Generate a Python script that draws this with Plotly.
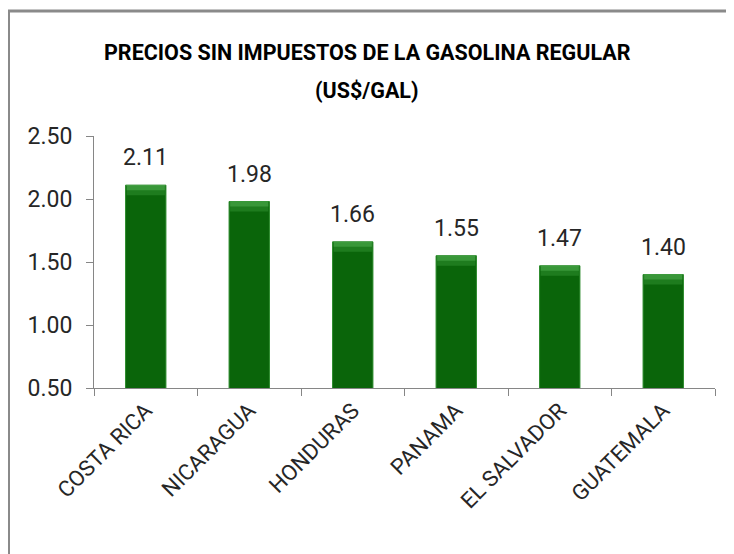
import plotly.graph_objects as go

countries = ["COSTA RICA", "NICARAGUA", "HONDURAS", "PANAMA", "EL SALVADOR", "GUATEMALA"]
prices = [2.11, 1.98, 1.66, 1.55, 1.47, 1.40]
price_labels = ["2.11", "1.98", "1.66", "1.55", "1.47", "1.40"]
y_ticks = [0.5, 1.0, 1.5, 2.0, 2.5]
y_tick_labels = ["0.50", "1.00", "1.50", "2.00", "2.50"]
title_line1 = "PRECIOS SIN IMPUESTOS DE LA GASOLINA REGULAR"
title_line2 = "(US$/GAL)"

# the page adds an 8 px body margin, so the figure is 8 px smaller than the window
W, H = 726, 546
L, R, T, B = 86, 19, 128, 166
plot_h = H - T - B
plot_w = W - L - R

FONT = "Roboto"
px_to_units = 2.0 / plot_h
bevel1 = 10 * px_to_units
bevel2 = 5 * px_to_units
title_x = (359 - L) / plot_w

fig = go.Figure()
fig.add_trace(go.Bar(
    x=countries, y=prices, width=0.39,
    marker=dict(color="#0a650a", line=dict(color="#2a8a2a", width=1)),
    hoverinfo="skip", showlegend=False,
))
fig.add_trace(go.Bar(
    x=countries, y=[bevel1] * len(prices), base=[p - bevel1 for p in prices], width=0.37,
    marker=dict(color="rgba(70,170,70,0.35)", line=dict(width=0)),
    hoverinfo="skip", showlegend=False,
))
fig.add_trace(go.Bar(
    x=countries, y=[bevel2] * len(prices), base=[p - bevel2 for p in prices], width=0.37,
    marker=dict(color="rgba(90,185,90,0.45)", line=dict(width=0)),
    hoverinfo="skip", showlegend=False,
))

for c, p, t in zip(countries, prices, price_labels):
    fig.add_annotation(x=c, y=p, text=t, showarrow=False, yanchor="bottom", yshift=12,
                       font=dict(family=FONT, size=23, color="#262626"))

fig.add_annotation(x=title_x, xref="paper", y=(H - B - 44) / plot_h, yref="paper",
                   text="<b>" + title_line1 + "</b>", showarrow=False, yanchor="middle",
                   font=dict(family=FONT, size=21.5, color="#000000"))
fig.add_annotation(x=title_x, xref="paper", y=(H - B - 82) / plot_h, yref="paper",
                   text="<b>" + title_line2 + "</b>", showarrow=False, yanchor="middle",
                   font=dict(family=FONT, size=21.5, color="#000000"))

# chart border (only top and left edges are inside the picture)
fig.add_shape(type="rect", xref="paper", yref="paper",
              x0=(0.5 - L) / plot_w, x1=1.2, y0=-1.2, y1=1 + (T - 3) / plot_h,
              line=dict(color="#8a8a8a", width=3), fillcolor="rgba(0,0,0,0)", layer="below")

fig.update_layout(
    width=W, height=H, barmode="overlay",
    margin=dict(l=L, r=R, t=T, b=B, autoexpand=False),
    paper_bgcolor="white", plot_bgcolor="white",
)
fig.update_yaxes(range=[0.5, 2.5], tickvals=y_ticks, ticktext=y_tick_labels,
                 showgrid=False, zeroline=False, showline=True, linecolor="#868686", linewidth=1,
                 ticks="outside", ticklen=7, tickcolor="#868686",
                 tickfont=dict(family=FONT, size=23, color="#262626"), ticklabelstandoff=9)
fig.update_xaxes(showgrid=False, showline=True, linecolor="#868686", linewidth=1,
                 ticks="outside", ticklen=7, tickcolor="#868686", tickson="boundaries",
                 tickangle=-45, tickfont=dict(family=FONT, size=22, color="#262626"))

fig.write_html("out.html")
